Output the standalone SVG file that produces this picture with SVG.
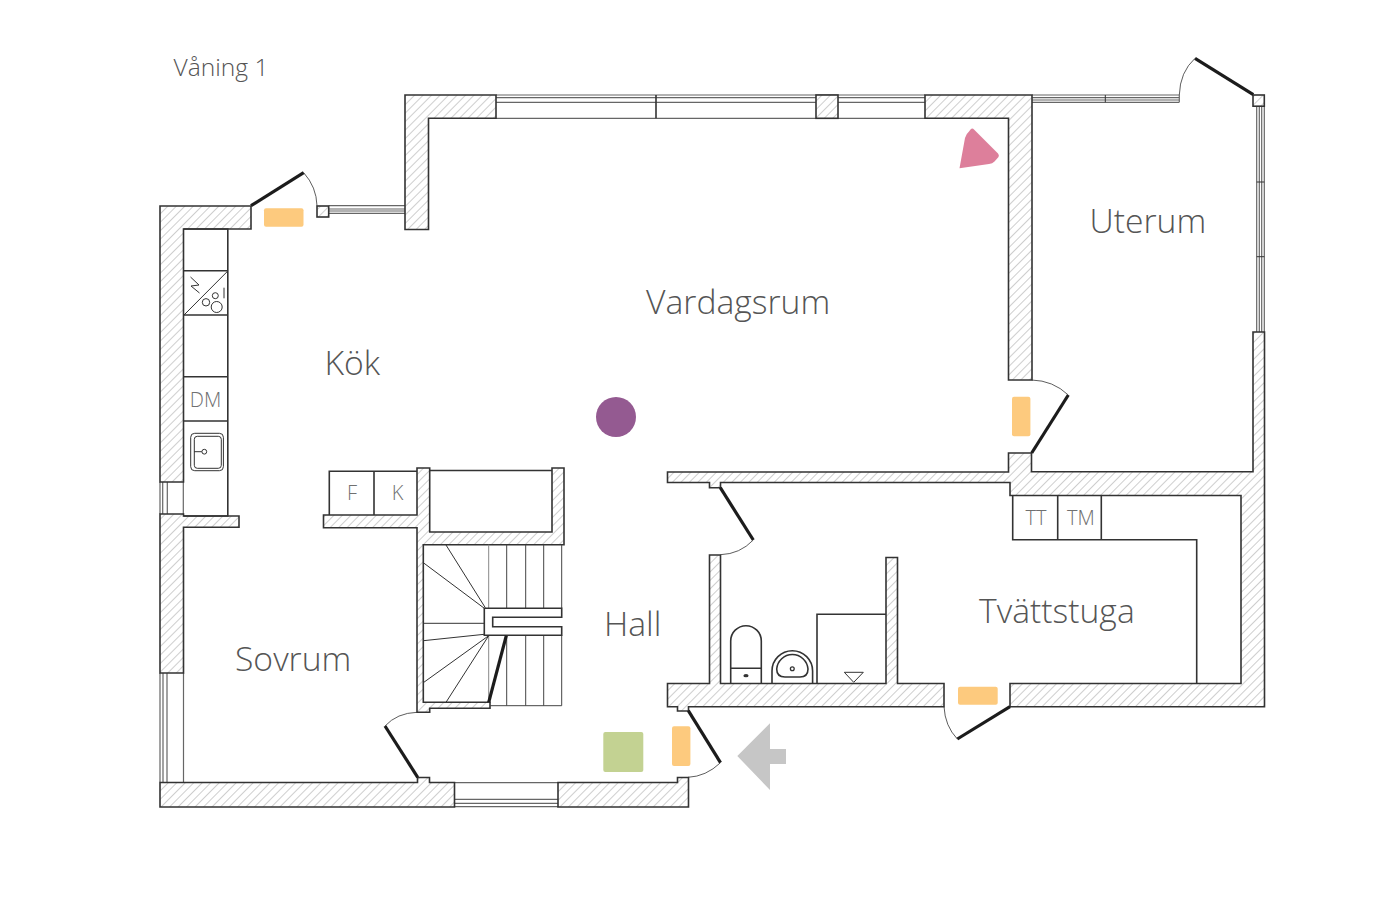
<svg xmlns="http://www.w3.org/2000/svg" width="1400" height="900" viewBox="0 0 1400 900">
<style>
.wall{fill:url(#hatch);stroke:#333;stroke-width:1.6;stroke-linejoin:miter}
.l{fill:none;stroke:#333;stroke-width:1.6}
.g{fill:none;stroke:#444;stroke-width:1}
.t{fill:none;stroke:#333;stroke-width:1}
.glass{fill:none;stroke:#666;stroke-width:1.2}
.leaf{fill:none;stroke:#1c1c1c;stroke-width:3.2}
.arc{fill:none;stroke:#333;stroke-width:.8}
.obox{fill:#fdca7e}
.room{font-family:"Open Sans","Noto Sans",sans-serif;font-weight:300;font-size:33.7px;fill:#555}
.small{font-family:"Open Sans","Noto Sans",sans-serif;font-weight:300;font-size:20px;fill:#707070;text-anchor:middle}
</style>
<defs>
<pattern id="hatch" width="6" height="6" patternUnits="userSpaceOnUse" patternTransform="rotate(45)">
<rect width="6" height="6" fill="#fff"/>
<line x1="0.5" y1="0" x2="0.5" y2="6" stroke="#c2c2c2" stroke-width="0.8"/>
</pattern>
</defs>
<rect width="1400" height="900" fill="#fff"/>

<g id="windows">
<path class="glass" d="M496 95H925M496 97.7H816M496 102.3H816M838 97.7H925M838 102.3H925M496 118.3H925"/>
<path class="l" d="M656 95V118.3" stroke-width="1.2"/>
<path class="glass" d="M1032 95H1179.3M1032 97.7H1179.3M1032 100H1179.3M1032 102.3H1179.3M1179.3 95V102.3"/>
<path class="t" d="M1105.3 95V102.3"/>
<path class="glass" d="M1256.7 106V332M1259.3 106V332M1261.7 106V332M1264.3 106V332"/>
<path class="t" d="M1256.7 182H1264.3M1256.7 256.7H1264.3"/>
<path class="glass" d="M328.7 205.7H405M328.7 209H405M328.7 211H405M328.7 213.3H405"/>
<path class="glass" d="M160 482V514M162.7 482V514M167.3 482V514M183.3 482V514"/>
<path class="glass" d="M160 673V782M163 673V782M167 673V782M183.5 673V782"/>
<path class="glass" d="M454.5 782.6H558M454.5 799.3H558M454.5 803.3H558M454.5 806.7H558"/>
</g>

<g id="walls">
<path class="wall" d="M160 206H251V229H183.5V482H160Z"/>
<path class="wall" d="M160 514H183.5V516H239V527.3H183.5V673H160Z"/>
<path class="wall" d="M160 782.5H417.5V777.5H429.5V782.5H454.5V807H160Z"/>
<path class="wall" d="M558 782.5H677.5V777.5H688.5V807H558Z"/>
<path class="wall" d="M417 468H429.7V532H552V468H564V544.7H423.3V702.3H490V708.3H429.7V712.3H417V527.7H323.5V515H417Z"/>
<path class="l" d="M429.7 470.5H552"/>
<path class="wall" d="M667.5 472H1008.5V453H1031.5V471.7H1253V332H1264.5V706.7H1010V683.5H1241V495.5H1010V482.5H720.5V487.7H709.5V482.5H667.5Z"/>
<path class="wall" d="M667.5 683.5H709.5V555H720.5V683.5H886V557.5H897.5V683.5H944V706.7H688.5V711H677.5V706.7H667.5Z"/>
<path class="wall" d="M405 95H496V118.3H428.5V229.5H405Z"/>
<rect class="wall" x="816" y="95" width="22" height="23.3"/>
<path class="wall" d="M925 95H1032V380H1008.5V118.3H925Z"/>
<rect class="wall" x="1253" y="95" width="11.3" height="11.2"/>
<rect class="wall" x="317" y="206" width="11.7" height="11"/>
</g>

<g id="doors">
<path class="leaf" d="M251 205.7L303.7 172.7"/>
<path class="arc" d="M303.7 172.7Q316.5 187 317 205.7"/>
<path class="leaf" d="M1195 58.3L1253.3 94.7"/>
<path class="arc" d="M1195 58.3Q1180 72 1179.3 95"/>
<path class="leaf" d="M1068.3 395L1031.7 453"/>
<path class="arc" d="M1068.3 395Q1053 380.5 1031.7 380"/>
<path class="leaf" d="M720.3 487.7L753.3 540"/>
<path class="arc" d="M753.3 540Q740 554 720.5 554.7"/>
<path class="leaf" d="M957.3 739L1010 706.7"/>
<path class="arc" d="M957.3 739Q945 726 944 706.7"/>
<path class="leaf" d="M688.3 710.7L720.5 762.7"/>
<path class="arc" d="M720.5 762.7Q706 776.5 688 777.3"/>
<path class="leaf" d="M385 726L417.7 777.3"/>
<path class="arc" d="M385 726Q397 713 417 712.3"/>
</g>

<g id="stairs">
<path class="g" d="M506.7 544.7V608M525.7 544.7V608M543.7 544.7V608M506.7 635.3V705.7M525.7 635.3V705.7M543.7 635.3V705.7"/>
<path class="g" d="M488.7 544.7V608M488.7 635.3V702.3" style="stroke:#888"/>
<path class="g" d="M561.7 544.7V608.3M561.7 635.3V705.7H490" stroke-width="1.4"/>
<path class="l" d="M561.7 608.3H484.3V635.3H561.7V626.7H492.7V617.3H561.7Z"/>
<path class="t" d="M446 545L485.3 607.7M423.3 562.7L484.3 608.3M423.3 623.3H484.3M423.3 640.7L484.3 634.3M423.3 682.7L488.7 635.7M446 702.3L488.7 635.7"/>
<path class="leaf" d="M488.7 702.3L506.3 635.7" stroke-width="2.6"/>
</g>

<g id="kitchen">
<path class="l" d="M183.5 229H227.8V516H183.5M183.5 270.7H227.8M183.5 315H227.8M183.5 376.7H227.8M183.5 421H227.8"/>
<path class="t" d="M227.8 271L184 315"/>
<path class="t" d="M190.5 277L199 285L191 286L199.5 293"/>
<circle class="t" cx="215.3" cy="295.7" r="3"/>
<circle class="t" cx="206" cy="302.3" r="3.7"/>
<circle class="t" cx="216.7" cy="307" r="5.5"/>
<path class="t" d="M224 287.7V298.3"/>
<rect class="t" x="190.7" y="433.3" width="32.7" height="37.4" rx="4"/>
<rect class="t" x="194.3" y="436.3" width="27" height="32" rx="3"/>
<circle class="t" cx="204.3" cy="451.7" r="2.4"/>
<path class="t" d="M194 451.7H201.8"/>
<path class="l" d="M329.3 515V471.3H417M374 471.3V515"/>
</g>

<g id="bath">
<path class="l" d="M730.7 683.5V641a15.3 15.3 0 0 1 30.6 0V683.5M730.7 668.3H761.3"/>
<ellipse cx="746" cy="675.7" rx="2.6" ry="1.6" fill="#333"/>
<path class="l" d="M772 683.5V671a20.3 20.3 0 0 1 40.6 0V683.5"/>
<path class="l" d="M776.7 669a15.7 15.7 0 0 1 31.3 0Q808 677 800 677H785Q776.7 677 776.7 669Z"/>
<circle cx="792.3" cy="668.7" r="1.9" fill="#fff" stroke="#333" stroke-width="1.3"/>
<path class="l" d="M886 614.3H817V683.5"/>
<path class="t" d="M844.3 672.3H863.3L853.7 682.3Z"/>
</g>

<g id="laundry">
<path class="l" d="M1012.7 495.5V539.7H1196.7V683.5M1057.7 495.5V539.7M1101.3 495.5V539.7"/>
</g>

<g id="markers">
<rect class="obox" x="264" y="208.3" width="39.5" height="18.4" rx="2"/>
<rect class="obox" x="672" y="726.3" width="18.4" height="39.7" rx="2"/>
<rect class="obox" x="1012" y="396.7" width="18.4" height="39.5" rx="2"/>
<rect class="obox" x="958" y="686.7" width="39.7" height="18" rx="2"/>
<rect x="603.3" y="732" width="40" height="40" rx="2" fill="#c3d292"/>
<circle cx="616" cy="417" r="20" fill="#945a91"/>
<path d="M959.5 168.2L965 138Q966 134 969 131.5L970.5 129.5Q972.3 127.5 974 129.5L998 153.5Q999.5 155 998.5 157L994.5 161.5Q992.5 163.5 989 164Z" fill="#dd7f9b"/>
<path d="M737.3 756L770 723.3V749H786V764H770V790Z" fill="#c6c6c6"/>
</g>

<g id="labels">
<text class="room" x="173.5" y="75.8" style="font-size:24.6px">Våning 1</text>
<text class="room" x="324.5" y="374.8">Kök</text>
<text class="room" x="646" y="313.8">Vardagsrum</text>
<text class="room" x="1089.5" y="232.8">Uterum</text>
<text class="room" x="604" y="635.8">Hall</text>
<text class="room" x="235" y="670.8">Sovrum</text>
<text class="room" x="979" y="622.8">Tvättstuga</text>
<text class="small" x="205.5" y="407">DM</text>
<text class="small" x="352" y="500">F</text>
<text class="small" x="397.5" y="500">K</text>
<text class="small" x="1036" y="525">TT</text>
<text class="small" x="1081" y="525">TM</text>
</g>
</svg>
